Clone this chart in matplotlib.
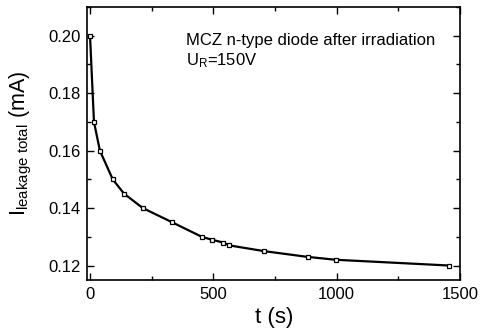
import matplotlib
matplotlib.use("Agg")
import matplotlib.pyplot as plt
from matplotlib.ticker import MultipleLocator, FormatStrFormatter

plt.rcParams['font.family'] = 'Liberation Sans'
plt.rcParams['mathtext.fontset'] = 'custom'
plt.rcParams['mathtext.rm'] = 'Liberation Sans'
plt.rcParams['mathtext.it'] = 'Liberation Sans'

# time after irradiation (s) and total leakage current (mA)
t_s = [0, 16, 40, 92, 138, 214, 334, 453, 493, 540, 565, 706, 882, 996, 1455]
i_leak = [0.200, 0.170, 0.160, 0.150, 0.145, 0.140, 0.135, 0.130, 0.129,
          0.128, 0.127, 0.125, 0.123, 0.122, 0.120]

fig = plt.figure(figsize=(4.81, 3.32), dpi=100)
ax = fig.add_axes([0.1815, 0.157, 0.775, 0.822])

ax.plot(t_s, i_leak, color='black', lw=1.6, marker='s', ms=3.2,
        mfc='white', mec='black', mew=0.9)

ax.set_xlim(-11, 1500)
ax.set_ylim(0.115, 0.21)
ax.xaxis.set_major_locator(MultipleLocator(500))
ax.xaxis.set_minor_locator(MultipleLocator(250))
ax.yaxis.set_major_locator(MultipleLocator(0.02))
ax.yaxis.set_minor_locator(MultipleLocator(0.01))
ax.yaxis.set_major_formatter(FormatStrFormatter('%.2f'))
ax.tick_params(which='both', direction='in', top=True, right=True, labelsize=12, width=1)
ax.tick_params(which='major', length=5, pad=5)
ax.tick_params(which='minor', length=3)
for s in ax.spines.values():
    s.set_linewidth(1.2)

ax.set_xlabel('t (s)', fontsize=16, labelpad=4)
ax.set_ylabel(r'$\mathregular{I_{leakage\ total}}$ (mA)', fontsize=15.5, labelpad=10)

ax.text(0.265, 0.905, 'MCZ n-type diode after irradiation\n' + r'$\mathregular{U_R}$=150V',
        transform=ax.transAxes, fontsize=12, va='top', ha='left', linespacing=1.25)

fig.savefig('out.png', dpi=100)
